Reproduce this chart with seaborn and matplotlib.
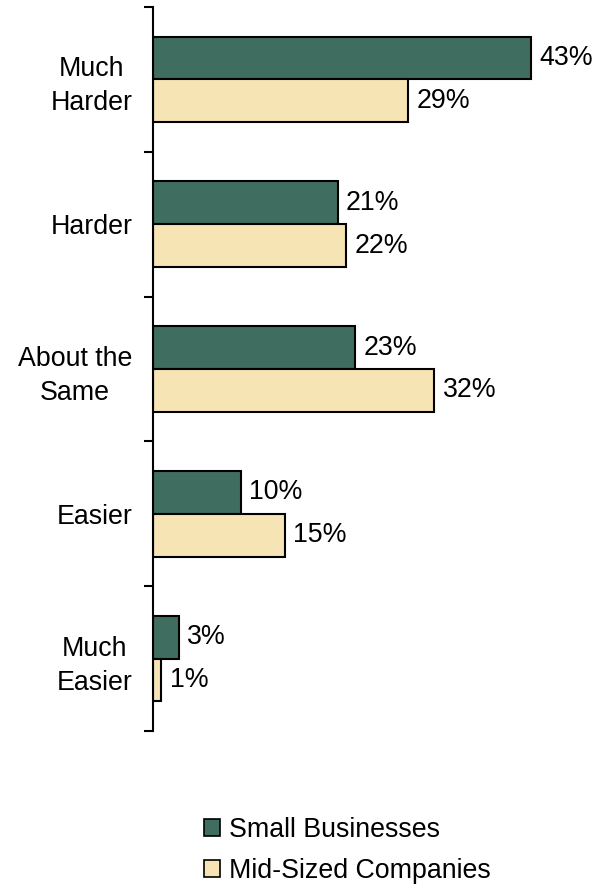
import matplotlib
matplotlib.use("Agg")
import matplotlib.pyplot as plt
import matplotlib.transforms as mtransforms
import seaborn as sns
import pandas as pd
from matplotlib.patches import Patch

categories = ["Much\nHarder", "Harder", "About the\nSame", "Easier", "Much\nEasier"]
series_names = ["Small Businesses", "Mid-Sized Companies"]
small_businesses = [43, 21, 23, 10, 3]
mid_sized = [29, 22, 32, 15, 1]
colors = ["#3F6E61", "#F7E4B4"]

rows = []
for c, v in zip(categories, small_businesses):
    rows.append({"cat": c, "series": series_names[0], "val": v})
for c, v in zip(categories, mid_sized):
    rows.append({"cat": c, "series": series_names[1], "val": v})
df = pd.DataFrame(rows)

sns.set_style("white")
plt.rcParams["font.family"] = ["Liberation Sans", "DejaVu Sans"]
plt.rcParams["text.color"] = "black"
plt.rcParams["ytick.color"] = "black"
plt.rcParams["xtick.color"] = "black"

FS = 19.3

fig = plt.figure(figsize=(5.98, 8.85), dpi=100)
ax = fig.add_axes([152.5 / 598, 1 - 731 / 885, (593 - 152.5) / 598, (731 - 7) / 885])

sns.barplot(data=df, y="cat", x="val", hue="series", orient="h",
            palette=colors, width=0.59, ax=ax, legend=False,
            edgecolor="black", linewidth=1.5, saturation=1)

for cont in ax.containers:
    ax.bar_label(cont, labels=[f"{int(v)}%" for v in cont.datavalues],
                 padding=6, fontsize=FS, color="black")

ax.set_xlim(0, 50)
ax.set_ylim(len(categories) - 0.5, -0.5)
ax.set_xlabel("")
ax.set_ylabel("")
for s in ["top", "right", "bottom"]:
    ax.spines[s].set_visible(False)
ax.spines["left"].set_color("black")
ax.spines["left"].set_linewidth(1.5)
ax.set_xticks([])

ax.set_yticks([i - 0.5 for i in range(len(categories) + 1)], minor=False)
ax.set_yticklabels([])
ax.set_yticks(range(len(categories)), minor=True)
ax.set_yticklabels(categories, minor=True, fontsize=FS, color="black")
offset = mtransforms.ScaledTranslation(0, 4 / 100, fig.dpi_scale_trans)
for lab in ax.get_yticklabels(minor=True):
    lab.set_horizontalalignment("right")
    lab.set_multialignment("center")
    lab.set_linespacing(1.4)
    lab.set_transform(lab.get_transform() + offset)
ax.tick_params(axis="y", which="major", left=True, length=6.5, width=1.5,
               color="black", direction="out")
ax.tick_params(axis="y", which="minor", left=False, length=0, pad=14.5)

handles = [Patch(facecolor=colors[i], edgecolor="black", linewidth=1.2,
                 label=series_names[i]) for i in range(2)]
fig.legend(handles=handles, loc="upper left",
           bbox_to_anchor=(191 / 598, 1 - 804 / 885), frameon=False,
           fontsize=FS, handlelength=0.6, handleheight=0.6,
           handletextpad=0.3, labelspacing=0.55, borderpad=0,
           labelcolor="black")

fig.savefig("out.png", dpi=100)
